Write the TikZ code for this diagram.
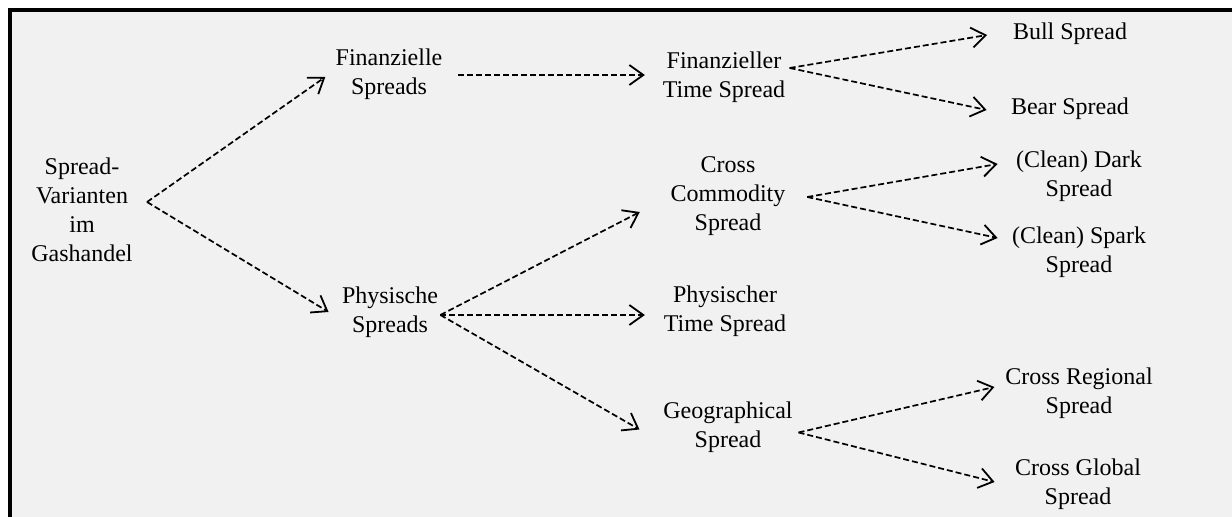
\documentclass[tikz,border=0pt]{standalone}
\usepackage{fontspec}
\setmainfont{Liberation Serif}
\usetikzlibrary{arrows.meta,positioning,calc}

\definecolor{panelgray}{RGB}{241,241,241}

\begin{document}
\begin{tikzpicture}[
    x=0.5pt, y=-0.5pt,
    item/.style={align=center, inner sep=2pt, font=\fontsize{12}{14.5}\selectfont},
    link/.style={dash pattern=on 3pt off 1.5pt, line width=0.85pt,
        -{Straight Barb[length=7pt,width=10pt,line width=0.9pt]}}
]

% background and frame
\useasboundingbox (0,0) rectangle (1232,517);
\fill[white] (0,0) rectangle (1232,517);
\fill[panelgray] (10,10) rectangle (1232,517);
\draw[line width=2pt] (10,517) -- (10,10) -- (1232,10);

% root
\node[item] (root) at (82,210) {Spread-\\Varianten\\im\\Gashandel};

% second level
\node[item] (fin) at (389,74) {Finanzielle\\Spreads};
\node[item] (phy) at (390,312) {Physische\\Spreads};

% third level
\node[item] (fts) at (724,77) {Finanzieller\\Time Spread};
\node[item] (ccs) at (728,196) {Cross\\Commodity\\Spread};
\node[item] (pts) at (725,311) {Physischer\\Time Spread};
\node[item] (geo) at (728,427) {Geographical\\Spread};

% leaves
\node[item] (bull) at (1070,34) {Bull Spread};
\node[item] (bear) at (1070,109) {Bear Spread};
\node[item] (dark) at (1079,176) {(Clean) Dark\\Spread};
\node[item] (spark) at (1079,252) {(Clean) Spark\\Spread};
\node[item] (creg) at (1079,393) {Cross Regional\\Spread};
\node[item] (cglob) at (1078,484) {Cross Global\\Spread};

% root connectors
\draw[link] ([xshift=5pt,yshift=4pt]root.east) -- ([xshift=-3pt,yshift=-1.5pt]fin.west);
\draw[link] ([xshift=5pt,yshift=4pt]root.east) -- ([xshift=-4.5pt]phy.west);

% financial branch
\draw[link] ([xshift=5.75pt,yshift=-0.5pt]fin.east) -- ([xshift=-6.75pt,yshift=1pt]fts.west);
\draw[link] ([yshift=4.5pt]fts.east) -- ([xshift=-10.75pt,yshift=-0.5pt]bull.west);
\draw[link] ([yshift=4.5pt]fts.east) -- ([xshift=-10pt,yshift=-0.5pt]bear.west);

% physical branch
\draw[link] ([xshift=-1pt,yshift=-1.5pt]phy.east) -- ([xshift=-13.25pt,yshift=-8pt]ccs.west);
\draw[link] ([xshift=-1pt,yshift=-1.5pt]phy.east) -- ([xshift=-7.25pt,yshift=-2pt]pts.west);
\draw[link] ([xshift=-1pt,yshift=-1.5pt]phy.east) -- ([xshift=-9.75pt,yshift=-1.25pt]geo.west);

\draw[link] ([xshift=8.75pt,yshift=-0.5pt]ccs.east) -- ([xshift=-7pt,yshift=6pt]dark.west);
\draw[link] ([xshift=8.75pt,yshift=-0.5pt]ccs.east) -- ([xshift=-5pt,yshift=7pt]spark.west);

\draw[link] ([xshift=0.75pt,yshift=-2.75pt]geo.east) -- ([xshift=-3.25pt,yshift=3pt]creg.west);
\draw[link] ([xshift=0.75pt,yshift=-2.75pt]geo.east) -- ([xshift=-8pt,yshift=1pt]cglob.west);

\end{tikzpicture}
\end{document}
